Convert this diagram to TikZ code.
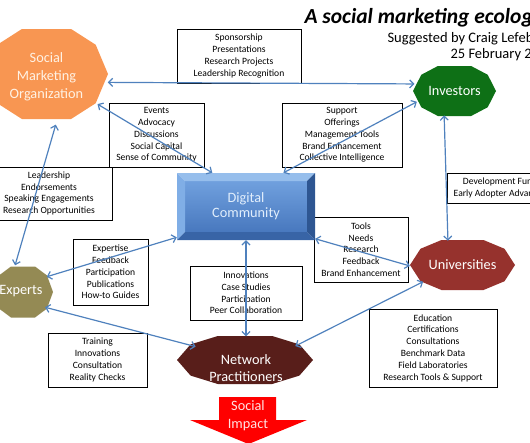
\documentclass[tikz,border=0pt]{standalone}
\usepackage{fontspec}
\setmainfont{Carlito}
\usetikzlibrary{shapes.geometric,arrows.meta}

\definecolor{smoorange}{RGB}{248,150,82}
\definecolor{smotext}{RGB}{255,242,228}
\definecolor{invgreen}{RGB}{14,112,22}
\definecolor{unired}{RGB}{150,50,45}
\definecolor{expolive}{RGB}{148,138,84}
\definecolor{netbrown}{RGB}{88,30,26}
\definecolor{linkblue}{RGB}{79,129,189}
\definecolor{dctop}{RGB}{112,160,222}
\definecolor{dcbottom}{RGB}{72,120,190}
\definecolor{bevelhigh}{RGB}{150,190,236}
\definecolor{bevelleft}{RGB}{128,174,230}
\definecolor{bevelright}{RGB}{46,86,146}
\definecolor{bevellow}{RGB}{56,100,166}
\definecolor{dctext}{RGB}{225,238,252}
\definecolor{impacttext}{RGB}{255,225,225}

% ten-sided hub outline: x, y, rx, ry, colour
\newcommand{\polyfill}[5]{%
  \fill[#5, shift={(#1,#2)}] (#3,0) -- ({0.8*#3},{-0.65*#4}) -- ({0.4*#3},{-#4})
    -- ({-0.4*#3},{-#4}) -- ({-0.8*#3},{-0.65*#4}) -- ({-#3},0)
    -- ({-0.8*#3},{0.65*#4}) -- ({-0.4*#3},{#4}) -- ({0.4*#3},{#4})
    -- ({0.8*#3},{0.65*#4}) -- cycle;}

\begin{document}
\begin{tikzpicture}[x=1pt, y=-1pt,
    >={Straight Barb[length=4pt,width=8pt]},
    infobox/.style={draw, line width=0.6pt, fill=white, align=center, inner sep=0pt,
      font=\fontsize{9.6}{11.8}\selectfont},
    hub/.style={ellipse, inner sep=0pt, align=center, text=white,
      font=\fontsize{14.3}{17.8}\selectfont},
    link/.style={<->, draw=linkblue, line width=1.2pt}]
    \useasboundingbox (0,0) rectangle (530,442);
    \clip (0,0) rectangle (530,442);

    % title
    \node[anchor=base west, font=\fontsize{21.5}{24}\selectfont\bfseries\itshape] (title) at (301,23) {A social marketing ecology};
    \node[anchor=base west, font=\fontsize{14.5}{16}\selectfont] (author) at (384,42) {Suggested by Craig Lefebvre};
    \node[anchor=base west, font=\fontsize{14.5}{16}\selectfont] (date) at (447,58) {25 February 2};

    % exchange boxes
    \node[infobox, minimum width=124pt, minimum height=54pt] (sponsor) at (239,56) {Sponsorship\\Presentations\\Research Projects\\Leadership Recognition};
    \node[infobox, minimum width=95pt, minimum height=64pt] (events) at (156.5,135) {Events\\Advocacy\\Discussions\\Social Capital\\Sense of Community};
    \node[infobox, minimum width=120pt, minimum height=64pt] (support) at (342,135) {Support\\Offerings\\Management Tools\\Brand Enhancement\\Collective Intelligence};
    \node[infobox, minimum width=126pt, minimum height=53pt] (leader) at (49,193.5) {Leadership\\Endorsements\\Speaking Engagements\\Research Opportunities};
    \node[infobox, minimum width=110pt, minimum height=30pt] (funds) at (502,188) {Development Funds\\Early Adopter Advantage};
    \node[infobox, minimum width=75pt, minimum height=66pt] (expertise) at (110.5,272) {Expertise\\Feedback\\Participation\\Publications\\How-to Guides};
    \node[infobox, minimum width=94pt, minimum height=65pt] (tools) at (361,249.5) {Tools\\Needs\\Research\\Feedback\\Brand Enhancement};
    \node[infobox, minimum width=112pt, minimum height=54pt] (innov) at (246,293) {Innovations\\Case Studies\\Participation\\Peer Collaboration};
    \node[infobox, minimum width=99pt, minimum height=54pt] (training) at (97.5,360) {Training\\Innovations\\Consultation\\Reality Checks};
    \node[infobox, minimum width=128pt, minimum height=78pt] (educ) at (433,348) {Education\\Certifications\\Consultations\\Benchmark Data\\Field Laboratories\\Research Tools \& Support};

    % actors
    \polyfill{46.5}{74}{61.5}{45}{smoorange}
    \node[hub, text=smotext, minimum width=123pt, minimum height=96pt] (smo) at (46.5,77) {Social\\Marketing\\Organization};
    \polyfill{454.5}{91}{41.5}{25}{invgreen}
    \node[hub, minimum width=83pt, minimum height=50pt] (inv) at (454.5,91) {Investors};
    \polyfill{462.5}{265}{52.5}{25}{unired}
    \node[hub, minimum width=105pt, minimum height=50pt] (uni) at (462.5,265) {Universities};
    \polyfill{23}{292}{30}{25.5}{expolive}
    \node[hub, minimum width=60pt, minimum height=52pt] (exp) at (21,291) {Experts};
    \polyfill{245}{360}{68}{24}{netbrown}
    \node[hub, minimum width=136pt, minimum height=63pt] (net) at (246,368) {Network\\Practitioners};

    % digital community, bevelled
    \shade[top color=dctop, bottom color=dcbottom] (185,181) rectangle (307,232);
    \fill[bevelhigh] (177,173) -- (315,173) -- (307,181) -- (185,181) -- cycle;
    \fill[bevelleft] (177,173) -- (185,181) -- (185,232) -- (177,240) -- cycle;
    \fill[bevelright] (315,173) -- (315,240) -- (307,232) -- (307,181) -- cycle;
    \fill[bevellow] (177,240) -- (315,240) -- (307,232) -- (185,232) -- cycle;
    \node[rectangle, inner sep=0pt, minimum width=138pt, minimum height=67pt, align=center,
      text=dctext, font=\fontsize{14.3}{17.8}\selectfont] (dc) at (246,206.5) {\raisebox{-2.5pt}{Digital}\\Community};

    % outcome
    \fill[red] (219,397) -- (276,397) -- (276,420) -- (307,420) -- (248.5,444) -- (190,420) -- (219,420) -- cycle;
    \node[align=center, inner sep=0pt, text=impacttext, font=\fontsize{14.3}{17.8}\selectfont] (impact) at (248,416) {Social\\Impact};

    % exchanges
    \draw[link] (smo.-5) -- (inv.170);
    \draw[link] (smo.-28) -- (dc.135);
    \draw[link] (inv.196) -- (dc.42);
    \draw[link] (smo.-79) -- (exp.103);
    \draw[link] (inv.-113) -- (uni.121);
    \draw[link] (dc.-25) -- (uni.181);
    \draw[link] (dc.204.6) -- (exp.29);
    \draw[link] (dc.south) -- (net.north);
    \draw[link] (exp.-34) -- (net.157);
    \draw[link] (uni.203) -- (net.24);
\end{tikzpicture}
\end{document}
